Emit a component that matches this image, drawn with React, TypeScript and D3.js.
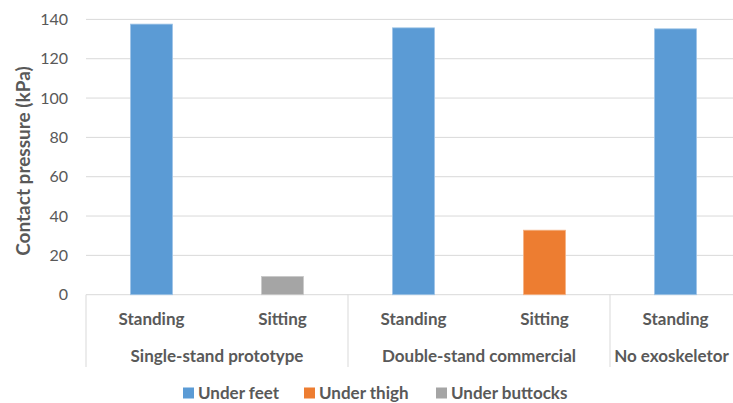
import React from "react";
import * as d3 from "d3";

// data
const groups = ["Single-stand prototype", "Double-stand commercial", "No exoskeletor"];
const postures = ["Standing", "Sitting", "Standing", "Sitting", "Standing"];
const groupOf = [0, 0, 1, 1, 2];
const values = [137.6, 9.3, 135.7, 32.8, 135.2];
const seriesOf = [0, 2, 0, 1, 0];
const seriesNames = ["Under feet", "Under thigh", "Under buttocks"];
const seriesColors = ["#5b9bd5", "#ed7d31", "#a5a5a5"];
const strokeColors = ["#9dc3e6", "#f4b183", "#c9c9c9"];
const yTicks = [0, 20, 40, 60, 80, 100, 120, 140];

const W = 733;
const H = 403;
const left = 86;
const right = 741;
const top = 19.4;
const bottom = 294.7;
const font = "Lato, 'Open Sans', sans-serif";
const grey = "#595959";

export default function App() {
  const x = d3
    .scaleBand<number>()
    .domain(d3.range(values.length))
    .range([left, right])
    .paddingInner(0)
    .paddingOuter(0);
  const y = d3.scaleLinear().domain([0, 140]).range([bottom, top]);
  const bw = x.bandwidth() * 0.32;

  // group boundaries (first index of each group + end)
  const starts = groups.map((_, g) => groupOf.indexOf(g));
  const sepX = [...starts.map((i) => x(i) as number), right];

  const legendX = [183, 304, 436];

  return (
    <svg
      width={W}
      height={H}
      style={{ position: "absolute", left: 0, top: 0, background: "#fff" }}
      fontFamily={font}
    >
      {yTicks.map((t) => (
        <g key={t}>
          <line x1={left} x2={right} y1={y(t)} y2={y(t)} stroke="#d9d9d9" strokeWidth={1} />
          <text x={68} y={y(t)} dy="0.35em" textAnchor="end" fontSize={16} fill={grey}>
            {t}
          </text>
        </g>
      ))}
      <text
        transform={`translate(23,${(top + bottom) / 2 + 4}) rotate(-90)`}
        textAnchor="middle"
        dy="0.35em"
        fontSize={19}
        fontWeight="bold"
        fill={grey}
      >
        Contact pressure (kPa)
      </text>

      {values.map((v, i) => {
        const cx = (x(i) as number) + x.bandwidth() / 2;
        const s = seriesOf[i];
        return (
          <rect
            key={i}
            x={cx - bw / 2}
            y={y(v)}
            width={bw}
            height={y(0) - y(v)}
            fill={seriesColors[s]}
            stroke={strokeColors[s]}
            strokeWidth={0.8}
          />
        );
      })}

      {sepX.map((sx, i) => (
        <line key={i} x1={sx} x2={sx} y1={bottom} y2={367} stroke="#d9d9d9" strokeWidth={1} />
      ))}

      {postures.map((p, i) => (
        <text
          key={i}
          x={(x(i) as number) + x.bandwidth() / 2}
          y={319}
          dy="0.35em"
          textAnchor="middle"
          fontSize={17}
          fontWeight="bold"
          fill={grey}
        >
          {p}
        </text>
      ))}

      {groups.map((g, gi) => (
        <text
          key={g}
          x={(sepX[gi] + Math.min(sepX[gi + 1], W)) / 2}
          y={356.5}
          dy="0.35em"
          textAnchor="middle"
          fontSize={17}
          fontWeight="bold"
          fill={grey}
        >
          {g}
        </text>
      ))}

      {seriesNames.map((n, i) => (
        <g key={n} transform={`translate(${legendX[i]},393)`}>
          <rect x={0} y={-5.5} width={11} height={11} fill={seriesColors[i]} />
          <text x={15} dy="0.35em" fontSize={17} fontWeight="bold" fill={grey}>
            {n}
          </text>
        </g>
      ))}
    </svg>
  );
}
